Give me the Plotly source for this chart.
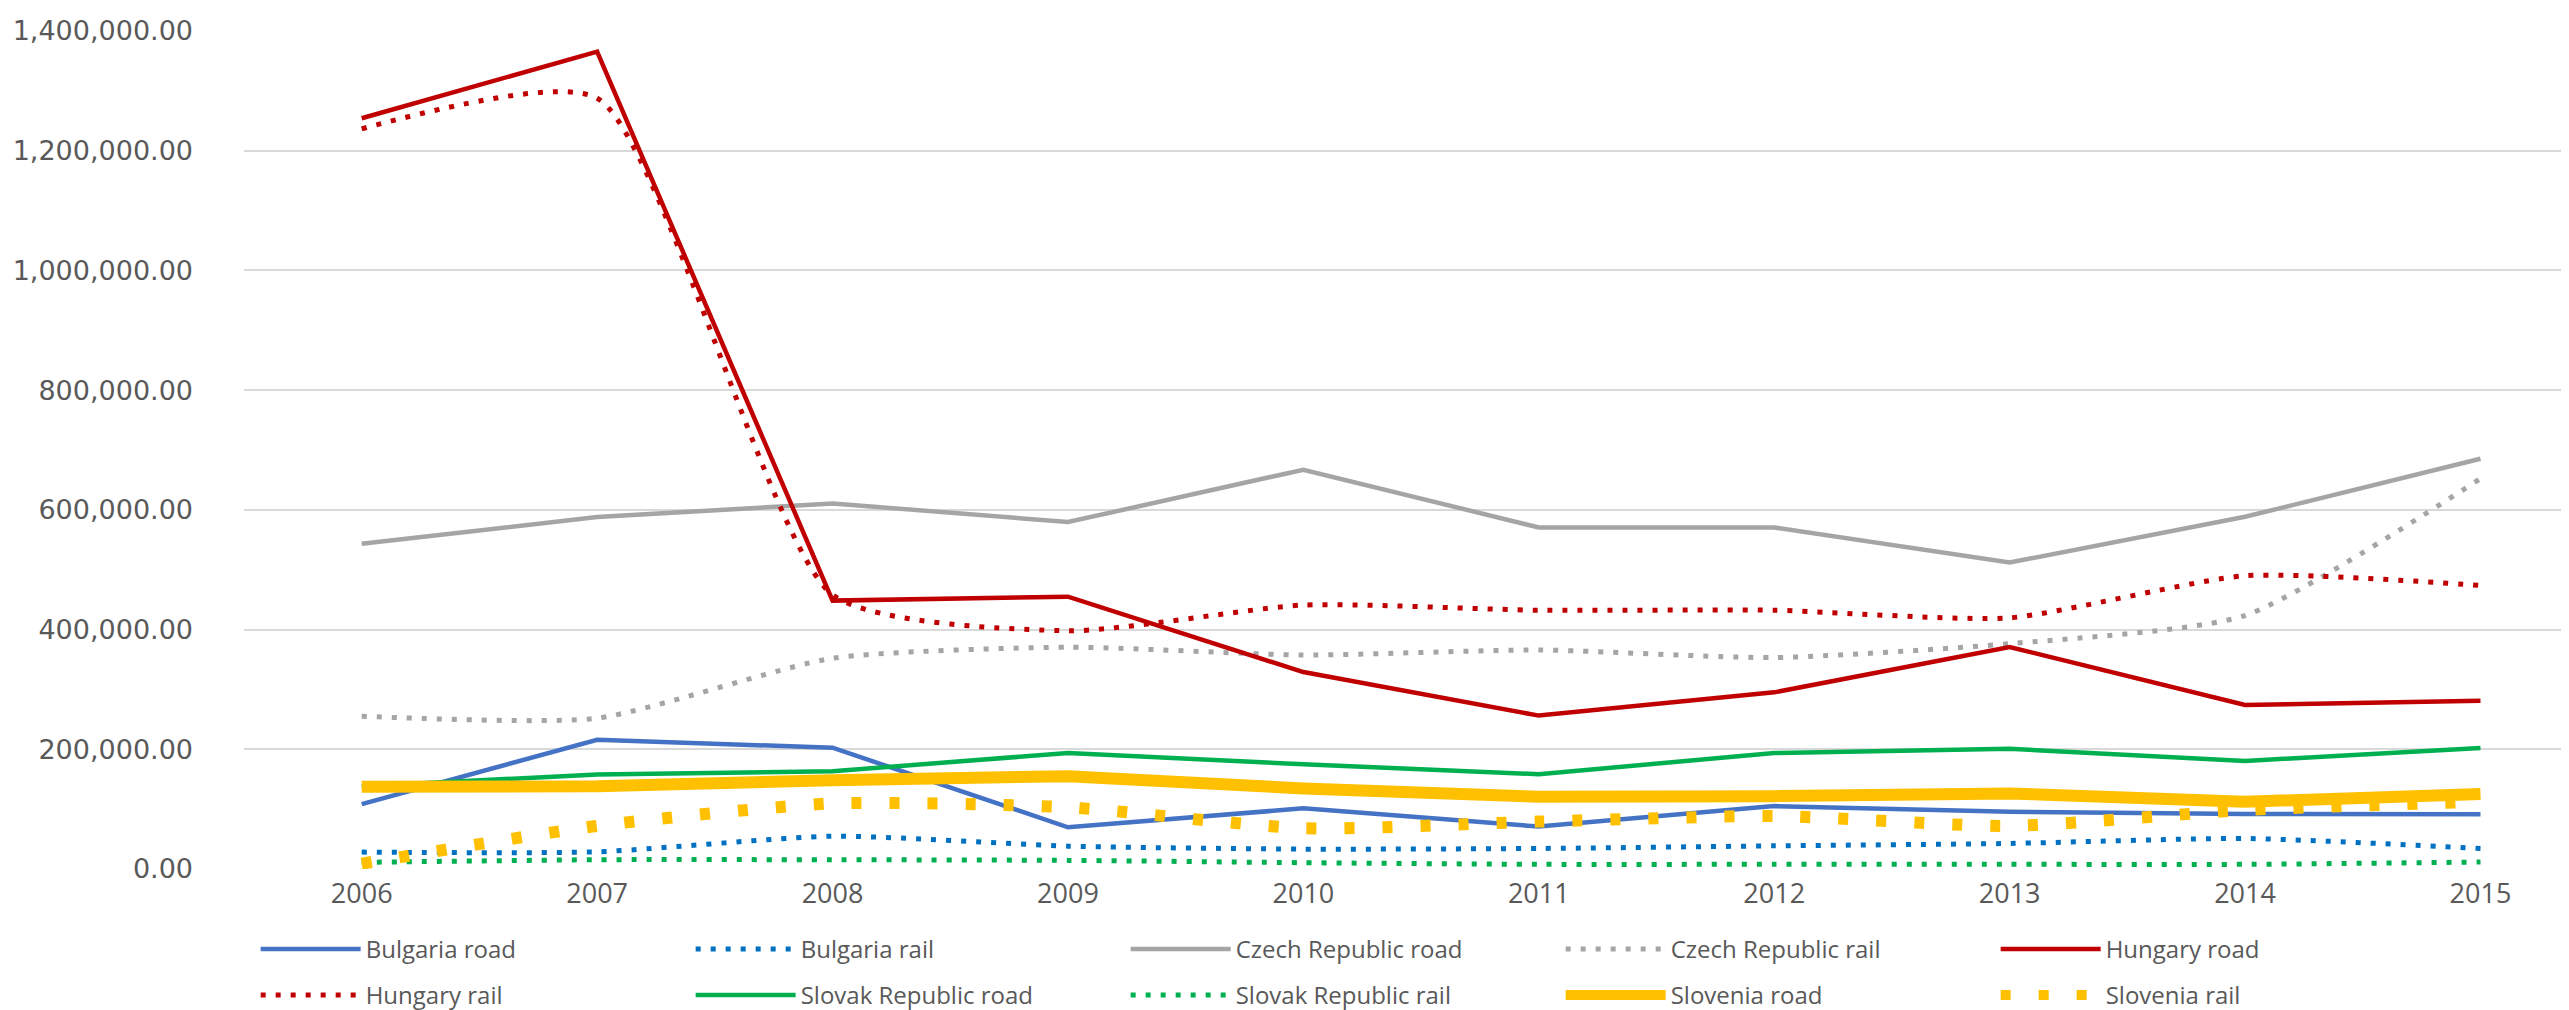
import plotly.graph_objects as go

years = ["2006", "2007", "2008", "2009", "2010", "2011", "2012", "2013", "2014", "2015"]

bulgaria_road = [108500, 215900, 202600, 69700, 101300, 70900, 105100, 95800, 91800, 91300]
bulgaria_rail = [28200, 28700, 54800, 38200, 33200, 34300, 38700, 42700, 51000, 34300]
czech_road = [543400, 587900, 610800, 579600, 667100, 570500, 570500, 512000, 588400, 685400]
czech_rail = [255200, 251900, 352100, 370500, 357500, 365900, 353200, 376400, 423500, 652200]
hungary_road = [1254300, 1365500, 448400, 455000, 329000, 256300, 295100, 370900, 274000, 281200]
hungary_rail = [1236500, 1287700, 458000, 398000, 441000, 432300, 432300, 419600, 489900, 473800]
slovak_road = [138300, 157800, 163300, 193800, 175000, 158300, 193800, 200900, 180500, 202100]
slovak_rail = [11100, 15500, 15500, 14400, 10500, 7800, 7800, 7800, 7800, 11600]
slovenia_road = [137300, 138400, 148300, 155000, 134500, 120700, 121700, 126200, 112400, 125100]
slovenia_rail = [8900, 72000, 109600, 103000, 68100, 79200, 88500, 71900, 98500, 112400]

series = [
    ("Bulgaria road", bulgaria_road, "#4472C4", 4.5, "solid", "linear", "legend"),
    ("Bulgaria rail", bulgaria_rail, "#0070C0", 5, "5px,10px", "spline", "legend"),
    ("Czech Republic road", czech_road, "#A5A5A5", 4.5, "solid", "linear", "legend"),
    ("Czech Republic rail", czech_rail, "#A5A5A5", 5, "5px,10px", "spline", "legend"),
    ("Hungary road", hungary_road, "#C00000", 4.5, "solid", "linear", "legend"),
    ("Hungary rail", hungary_rail, "#C00000", 5, "5px,10px", "spline", "legend2"),
    ("Slovak Republic road", slovak_road, "#00B050", 4.5, "solid", "linear", "legend2"),
    ("Slovak Republic rail", slovak_rail, "#00B050", 5, "5px,10px", "spline", "legend2"),
    ("Slovenia road", slovenia_road, "#FFC000", 12, "solid", "linear", "legend2"),
    ("Slovenia rail", slovenia_rail, "#FFC000", 12, "10px,28px", "spline", "legend2"),
]

fig = go.Figure()
for name, vals, color, w, dash, shape, leg in series:
    line = dict(color=color, width=w, dash=dash, shape=shape)
    if shape == "spline":
        line["smoothing"] = 0.6
    fig.add_trace(go.Scatter(x=list(range(len(years))), y=vals, name=name,
                             mode="lines", line=line, legend=leg))

legend_common = dict(
    orientation="h", xanchor="left", yanchor="middle",
    font=dict(family="Open Sans", size=24, color="#595959"),
    itemwidth=100, entrywidth=320, entrywidthmode="pixels",
    bgcolor="rgba(0,0,0,0)",
)

fig.update_layout(
    width=2569, height=1010,
    margin=dict(l=236, r=0, t=23, b=144),
    paper_bgcolor="white", plot_bgcolor="white",
    font=dict(family="Open Sans", color="#595959"),
    xaxis=dict(
        range=[-0.5, 9.41], tickmode="array", tickvals=list(range(len(years))),
        ticktext=years, showgrid=False, zeroline=False, showline=False,
        tickfont=dict(family="Open Sans", size=27, color="#595959"),
        ticks="", ticklabelstandoff=6,
    ),
    yaxis=dict(
        range=[0, 1400000], tickmode="linear", tick0=0, dtick=200000,
        tickformat=",.2f", showgrid=True, gridcolor="#D9D9D9", gridwidth=2,
        zeroline=False, showline=False, ticks="", ticklabelstandoff=50,
        tickfont=dict(family="DejaVu Sans", size=27, color="#595959"),
    ),
    legend=dict(x=0.005, y=-0.096, **legend_common),
    legend2=dict(x=0.005, y=-0.151, **legend_common),
    showlegend=True,
)

fig.write_html("out.html")
